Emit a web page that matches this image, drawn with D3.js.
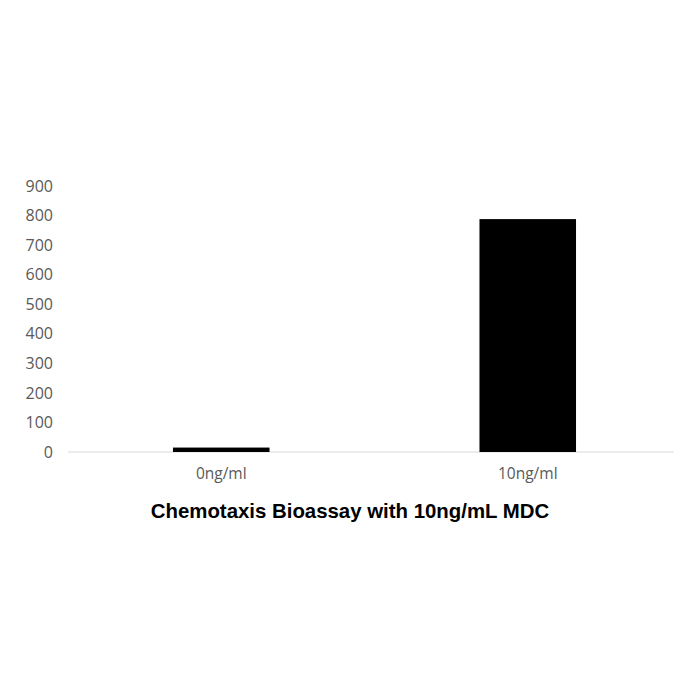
<!DOCTYPE html>
<html>
<head>
<meta charset="utf-8">
<script src="https://cdn.jsdelivr.net/npm/d3@7"></script>
<style>
    html, body { margin: 0; padding: 0; background: #fff; }
</style>
</head>
<body>
<div id="chart"></div>
<script>
// Data
const categories = ["0ng/ml", "10ng/ml"];
const values = [15, 788];
const yTicks = [0, 100, 200, 300, 400, 500, 600, 700, 800, 900];
const chartTitle = "Chemotaxis Bioassay with 10ng/mL MDC";

const width = 700;
const height = 700;
const margin = { top: 186, right: 19, bottom: 248, left: 68 };

const svg = d3.select("#chart")
    .append("svg")
    .attr("width", width)
    .attr("height", height)
    .style("background", "#fff");

// SCALES
const x = d3.scaleBand()
    .domain(categories)
    .range([margin.left, width - margin.right])
    .paddingInner(0.685)
    .paddingOuter(0.3425);

const y = d3.scaleLinear()
    .domain([0, 900])
    .range([height - margin.bottom, margin.top]);

// Y tick labels (no axis line, no tick marks)
svg.append("g")
    .attr("transform", `translate(${margin.left},0)`)
    .call(d3.axisLeft(y).tickValues(yTicks).tickSize(0).tickPadding(15))
    .call(g => g.select(".domain").remove())
    .selectAll("text")
    .attr("fill", "#595959")
    .style("font-family", "'Open Sans', sans-serif")
    .style("font-size", "16px");

// Baseline
svg.append("line")
    .attr("x1", margin.left)
    .attr("x2", 674)
    .attr("y1", y(0))
    .attr("y2", y(0))
    .attr("stroke", "#d9d9d9")
    .attr("stroke-width", 1.2);

// BARS
svg.append("g")
    .selectAll("rect")
    .data(values)
    .join("rect")
    .attr("x", (d, i) => x(categories[i]))
    .attr("y", d => y(d))
    .attr("width", x.bandwidth())
    .attr("height", d => y(0) - y(d))
    .attr("fill", "#000");

// X labels
svg.append("g")
    .attr("transform", `translate(0,${y(0)})`)
    .call(d3.axisBottom(x).tickSize(0).tickPadding(16))
    .call(g => g.select(".domain").remove())
    .selectAll("text")
    .attr("fill", "#595959")
    .style("font-family", "'Open Sans', sans-serif")
    .style("font-size", "15.5px");

// Title
svg.append("text")
    .attr("x", 350)
    .attr("y", 518)
    .attr("text-anchor", "middle")
    .attr("fill", "#000")
    .style("font-family", "'Liberation Sans', Arial, sans-serif")
    .style("font-weight", "bold")
    .style("font-size", "20.4px")
    .text(chartTitle);
</script>
</body>
</html>
